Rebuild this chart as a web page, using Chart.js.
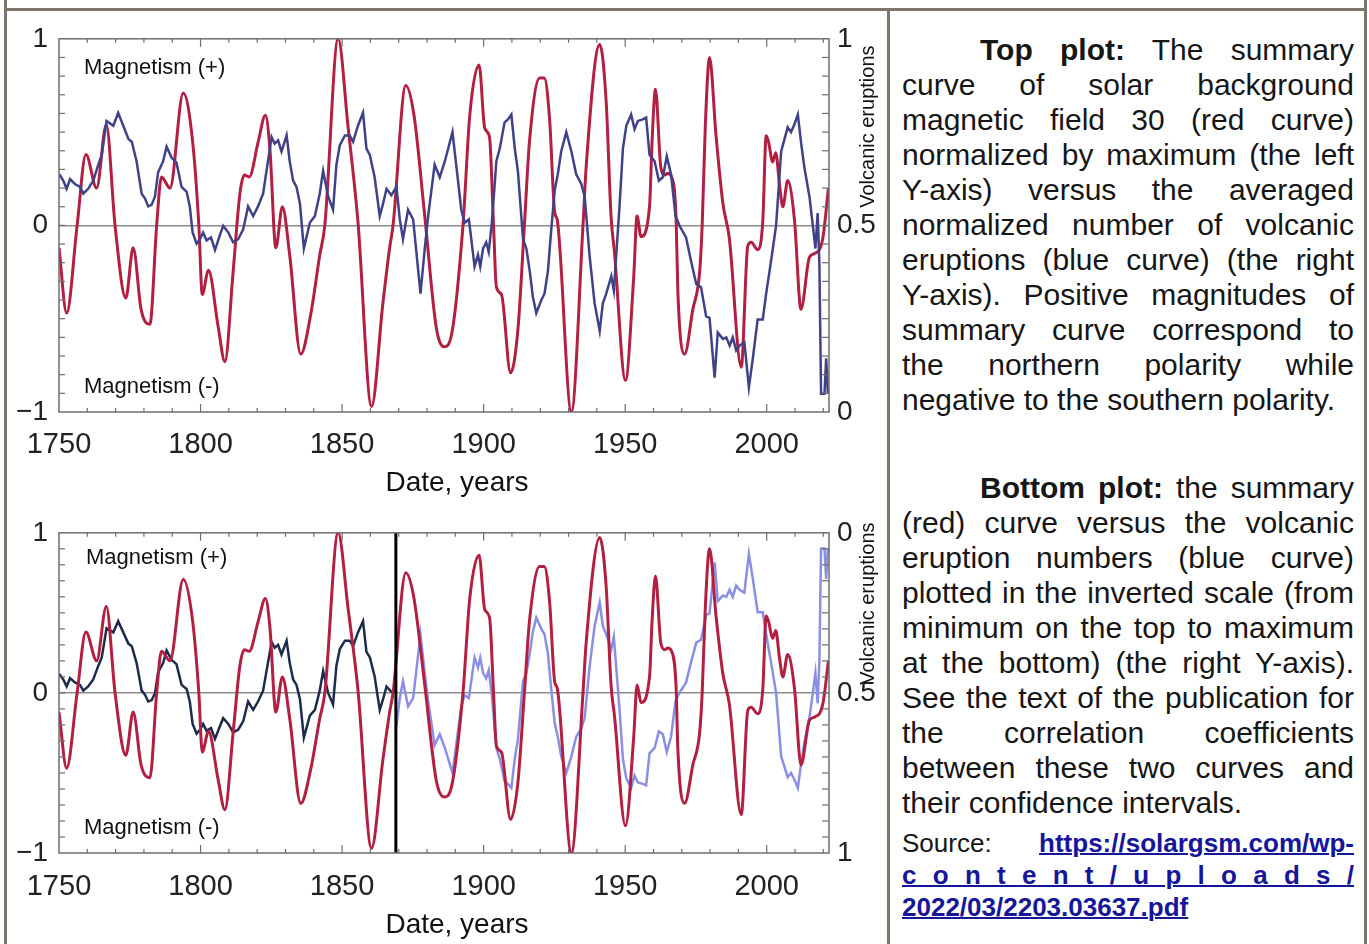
<!DOCTYPE html>
<html>
<head>
<meta charset="utf-8">
<script src="https://cdn.jsdelivr.net/npm/chart.js@4.4.1/dist/chart.umd.min.js"></script>
<style>
  html, body { margin: 0; padding: 0; background: #fff; }
  body { width: 1369px; height: 944px; position: relative; overflow: hidden;
         font-family: "Liberation Sans", Arial, sans-serif; color: #161616; }
  .rule { position: absolute; background: #7c776a; }
  canvas { position: absolute; left: 8px; }
  #topPlot { top: 11px; }
  #bottomPlot { top: 505px; }
  .notes { position: absolute; left: 902px; width: 452px; font-size: 30px; line-height: 35px; }
  .ln { text-align: justify; text-align-last: justify; }
  .ln.last { text-align-last: left; }
  .ln.first { padding-left: 78px; }
  .src { position: absolute; left: 902px; width: 452px; font-size: 26px; line-height: 32px; }
  .src a { color: #16169a; font-weight: bold; text-decoration: underline; text-decoration-thickness: 2px; }
  #spread { display: inline-block; white-space: nowrap; }
</style>
</head>
<body>
<div class="rule" style="left:4px; top:0; width:3px; height:944px;"></div>
<div class="rule" style="left:4px; top:8px; width:1363px; height:3px;"></div>
<div class="rule" style="left:887px; top:8px; width:3px; height:936px;"></div>
<div class="rule" style="left:1364px; top:0; width:3px; height:944px;"></div>

<canvas id="topPlot" width="878" height="490"></canvas>
<canvas id="bottomPlot" width="878" height="439"></canvas>

<div class="notes" style="top:32px;">
  <div class="ln first"><b>Top plot:</b> The summary</div>
  <div class="ln">curve of solar background</div>
  <div class="ln">magnetic field 30 (red curve)</div>
  <div class="ln">normalized by maximum (the left</div>
  <div class="ln">Y-axis) versus the averaged</div>
  <div class="ln">normalized number of volcanic</div>
  <div class="ln">eruptions (blue curve) (the right</div>
  <div class="ln">Y-axis). Positive magnitudes of</div>
  <div class="ln">summary curve correspond to</div>
  <div class="ln">the northern polarity while</div>
  <div class="ln last">negative to the southern polarity.</div>
</div>

<div class="notes" style="top:470px;">
  <div class="ln first"><b>Bottom plot:</b> the summary</div>
  <div class="ln">(red) curve versus the volcanic</div>
  <div class="ln">eruption numbers (blue curve)</div>
  <div class="ln">plotted in the inverted scale (from</div>
  <div class="ln">minimum on the top to maximum</div>
  <div class="ln">at the bottom) (the right Y-axis).</div>
  <div class="ln">See the text of the publication for</div>
  <div class="ln">the correlation coefficients</div>
  <div class="ln">between these two curves and</div>
  <div class="ln last">their confidence intervals.</div>
</div>

<div class="src" style="top:827px;">
  <div class="ln">Source: <a>https://solargsm.com/wp-</a></div>
  <div class="ln last"><a id="spread">content/uploads/</a></div>
  <div class="ln last"><a>2022/03/2203.03637.pdf</a></div>
</div>

<script>
// summary magnetic curve, normalized by maximum (left axis)
const magYears = [
  1750.0, 1752.7, 1756.4, 1759.5, 1763.3, 1766.7, 1769.8, 1773.6, 1776.2, 1779.0,
  1782.1, 1784.5, 1786.2, 1789.2, 1793.9, 1797.2, 1799.4, 1800.6, 1802.8, 1806.2,
  1808.6, 1811.5, 1813.9, 1815.5, 1817.2, 1820.4, 1822.9, 1824.5, 1826.6, 1828.9,
  1831.5, 1835.4, 1839.0, 1842.1, 1843.9, 1848.6, 1852.1, 1855.6, 1860.4, 1864.4,
  1866.8, 1868.0, 1872.5, 1875.4, 1879.2, 1883.3, 1886.1, 1888.6, 1892.7, 1895.1,
  1898.4, 1900.4, 1902.1, 1903.5, 1904.5, 1906.3, 1909.5, 1912.1, 1914.4, 1916.2,
  1919.8, 1921.4, 1923.3, 1925.1, 1926.0, 1931.0, 1935.1, 1936.2, 1941.0, 1943.3,
  1945.0, 1946.2, 1950.1, 1953.0, 1954.2, 1955.6, 1958.6, 1959.5, 1960.7, 1962.6,
  1964.0, 1965.0, 1966.4, 1968.0, 1968.6, 1971.0, 1973.9, 1976.3, 1977.2, 1978.3,
  1979.8, 1982.1, 1984.5, 1986.8, 1991.0, 1993.3, 1994.5, 1996.8, 1998.6, 1999.8,
  2000.6, 2002.1, 2003.2, 2004.5, 2005.7, 2007.4, 2009.8, 2012.1, 2015.1, 2017.0,
  2019.8, 2021.8
];
const magSummary = [
  -0.12, -0.47, 0.00, 0.38, 0.20, 0.54, 0.00, -0.39, -0.12, -0.45,
  -0.53, 0.00, 0.26, 0.20, 0.71, 0.45, 0.00, -0.37, -0.24, -0.54,
  -0.73, -0.25, 0.17, 0.27, 0.26, 0.45, 0.59, 0.41, -0.12, 0.10,
  -0.16, -0.69, -0.47, -0.16, 0.00, 1.00, 0.53, 0.02, -0.97, -0.42,
  -0.12, 0.00, 0.75, 0.59, 0.05, -0.55, -0.65, -0.59, 0.00, 0.59,
  0.86, 0.52, 0.47, 0.00, -0.33, -0.37, -0.79, -0.56, 0.00, 0.45,
  0.79, 0.79, 0.57, 0.07, 0.03, -1.00, 0.00, 0.31, 0.97, 0.66,
  0.05, -0.14, -0.83, -0.28, 0.05, -0.06, 0.10, 0.45, 0.73, 0.31,
  0.27, 0.28, 0.26, 0.03, -0.35, -0.69, -0.45, -0.25, 0.00, 0.53,
  0.90, 0.48, 0.12, -0.07, -0.76, -0.11, -0.09, -0.13, 0.02, 0.48,
  0.45, 0.34, 0.39, 0.22, 0.10, 0.24, 0.03, -0.45, -0.17, -0.15,
  -0.07, 0.20
];

// averaged normalized number of volcanic eruptions (right axis)
const volcYears = [
  1750.1, 1751.5, 1752.7, 1753.9, 1755.6, 1757.4, 1758.6, 1760.3, 1762.1, 1763.9,
  1765.1, 1766.8, 1769.2, 1770.9, 1772.7, 1774.5, 1775.7, 1777.4, 1779.2, 1780.4,
  1781.5, 1782.7, 1783.9, 1785.0, 1786.8, 1788.0, 1789.8, 1791.5, 1793.3, 1795.1,
  1796.2, 1797.2, 1798.6, 1799.8, 1800.9, 1802.1, 1803.7, 1805.1, 1806.8, 1808.0,
  1809.8, 1811.5, 1813.3, 1815.1, 1816.8, 1818.6, 1820.3, 1822.1, 1823.3, 1825.1,
  1826.2, 1827.4, 1828.6, 1830.4, 1831.5, 1832.7, 1833.9, 1835.1, 1836.5, 1838.6,
  1840.4, 1842.1, 1843.3, 1845.1, 1846.8, 1848.0, 1849.2, 1851.0, 1852.7, 1853.9,
  1855.6, 1857.4, 1858.6, 1859.8, 1861.5, 1863.3, 1864.5, 1865.7, 1867.4, 1869.2,
  1870.4, 1871.5, 1873.3, 1875.1, 1877.7, 1879.2, 1880.4, 1882.7, 1884.5, 1886.3,
  1889.0, 1890.3, 1892.1, 1893.3, 1894.8, 1896.8, 1898.0, 1898.8, 1899.8, 1900.9,
  1901.8, 1902.9, 1904.5, 1905.7, 1907.4, 1908.6, 1909.8, 1911.0, 1912.1, 1913.9,
  1915.1, 1916.3, 1917.4, 1918.6, 1920.4, 1921.5, 1922.7, 1923.9, 1925.1, 1926.2,
  1927.4, 1929.2, 1931.0, 1932.7, 1934.5, 1935.7, 1937.4, 1939.2, 1941.0, 1942.1,
  1943.3, 1945.1, 1946.0, 1948.0, 1949.2, 1950.4, 1952.1, 1953.3, 1954.5, 1956.2,
  1957.4, 1958.6, 1960.4, 1961.9, 1963.3, 1964.7, 1966.2, 1967.8, 1969.2, 1971.5,
  1973.3, 1975.1, 1976.8, 1978.6, 1979.8, 1981.6, 1982.7, 1984.5, 1985.7, 1986.9,
  1988.0, 1989.2, 1990.4, 1992.1, 1993.7, 1995.1, 1996.8, 1998.6, 1999.8, 2001.5,
  2003.3, 2005.1, 2006.3, 2007.4, 2008.6, 2009.8, 2011.0, 2012.1, 2013.3, 2015.1,
  2016.3, 2017.2, 2018.0, 2018.6, 2019.2, 2020.4, 2021.0, 2021.6
];
const volcNorm = [
  0.637, 0.620, 0.598, 0.624, 0.611, 0.603, 0.585, 0.598, 0.620, 0.663,
  0.689, 0.780, 0.767, 0.802, 0.767, 0.732, 0.724, 0.672, 0.585, 0.572,
  0.551, 0.555, 0.577, 0.642, 0.672, 0.711, 0.681, 0.668, 0.603, 0.590,
  0.551, 0.481, 0.451, 0.463, 0.481, 0.460, 0.468, 0.434, 0.473, 0.499,
  0.481, 0.455, 0.463, 0.490, 0.551, 0.525, 0.551, 0.585, 0.646, 0.737,
  0.719, 0.728, 0.698, 0.741, 0.672, 0.620, 0.603, 0.559, 0.438, 0.507,
  0.525, 0.585, 0.646, 0.577, 0.542, 0.663, 0.715, 0.741, 0.741, 0.724,
  0.767, 0.802, 0.706, 0.689, 0.629, 0.525, 0.559, 0.598, 0.581, 0.603,
  0.516, 0.463, 0.542, 0.516, 0.317, 0.438, 0.525, 0.663, 0.629, 0.672,
  0.750, 0.663, 0.542, 0.507, 0.516, 0.390, 0.421, 0.390, 0.438, 0.455,
  0.429, 0.507, 0.672, 0.706, 0.776, 0.784, 0.797, 0.706, 0.646, 0.464,
  0.438, 0.377, 0.308, 0.265, 0.300, 0.317, 0.377, 0.490, 0.594, 0.637,
  0.698, 0.750, 0.698, 0.637, 0.611, 0.577, 0.421, 0.291, 0.217, 0.291,
  0.317, 0.364, 0.325, 0.551, 0.706, 0.767, 0.797, 0.758, 0.780, 0.784,
  0.789, 0.689, 0.672, 0.620, 0.629, 0.685, 0.637, 0.525, 0.499, 0.468,
  0.403, 0.343, 0.334, 0.256, 0.252, 0.092, 0.213, 0.196, 0.200, 0.178,
  0.200, 0.165, 0.178, 0.187, 0.066, 0.144, 0.248, 0.248, 0.317, 0.403,
  0.499, 0.698, 0.732, 0.763, 0.750, 0.771, 0.797, 0.724, 0.655, 0.577,
  0.499, 0.438, 0.533, 0.399, 0.049, 0.049, 0.144, 0.049
];

// early part of the eruption curve in the lower panel (before the split)
const earlyYears = [
  1750.1, 1751.5, 1752.7, 1753.9, 1755.6, 1757.4, 1758.6, 1760.3, 1762.1, 1763.9,
  1765.1, 1766.8, 1769.2, 1770.9, 1772.7, 1774.5, 1775.7, 1777.4, 1779.2, 1780.4,
  1781.5, 1782.7, 1783.9, 1785.0, 1786.8, 1788.0, 1789.8, 1791.5, 1793.3, 1795.1,
  1796.2, 1797.2, 1798.6, 1799.8, 1800.9, 1802.1, 1803.7, 1805.1, 1806.8, 1808.0,
  1809.8, 1811.5, 1813.3, 1815.1, 1816.8, 1818.6, 1820.3, 1822.1, 1823.3, 1825.1,
  1826.2, 1827.4, 1828.6, 1830.4, 1831.5, 1832.7, 1833.9, 1835.1, 1836.5, 1838.6,
  1840.4, 1842.1, 1843.3, 1845.1, 1846.8, 1848.0, 1849.2, 1851.0, 1852.7, 1853.9,
  1855.6, 1857.4, 1858.6, 1859.8, 1861.5, 1863.3, 1864.5, 1865.7, 1867.4, 1869.0
];
const earlyVolc = [
  0.441, 0.458, 0.480, 0.454, 0.467, 0.475, 0.493, 0.480, 0.458, 0.415,
  0.389, 0.298, 0.311, 0.276, 0.311, 0.346, 0.354, 0.406, 0.493, 0.506,
  0.527, 0.523, 0.501, 0.436, 0.406, 0.367, 0.397, 0.410, 0.475, 0.488,
  0.527, 0.597, 0.627, 0.615, 0.597, 0.618, 0.610, 0.644, 0.605, 0.579,
  0.597, 0.623, 0.615, 0.588, 0.527, 0.553, 0.527, 0.493, 0.432, 0.341,
  0.359, 0.350, 0.380, 0.337, 0.406, 0.458, 0.475, 0.519, 0.640, 0.571,
  0.553, 0.493, 0.432, 0.501, 0.536, 0.415, 0.363, 0.337, 0.337, 0.354,
  0.311, 0.276, 0.372, 0.389, 0.449, 0.553, 0.519, 0.480, 0.497, 0.490
];

const splitYear = 1869;
const yearMin = 1750, yearMax = 2022;

const FONT = '"Liberation Sans", Arial, sans-serif';
const RED = '#b21f40';

const pts = (xs, ys) => xs.map((x, i) => ({ x: x, y: ys[i] }));

// boxed frame, inward minor ticks and in-plot labels
const framePlugin = {
  id: 'frame',
  afterDatasetsDraw(chart, args, o) {
    const { ctx, chartArea: a, scales } = chart;
    const seg = (x1, y1, x2, y2) => { ctx.beginPath(); ctx.moveTo(x1, y1); ctx.lineTo(x2, y2); ctx.stroke(); };
    ctx.save();
    if (o.split) {
      const sx = scales.x.getPixelForValue(o.split);
      ctx.strokeStyle = '#000';
      ctx.lineWidth = 3;
      seg(sx, a.top, sx, a.bottom);
    }
    ctx.strokeStyle = '#6e6e6e';
    ctx.lineWidth = 1.5;
    ctx.strokeRect(a.left, a.top, a.right - a.left, a.bottom - a.top);
    ctx.lineWidth = 1.2;
    for (let yr = 1760; yr <= 2020; yr += 10) {
      const px = scales.x.getPixelForValue(yr);
      const len = yr % 50 === 0 ? 8 : 4;
      seg(px, a.bottom, px, a.bottom - len);
      seg(px, a.top, px, a.top + len);
    }
    for (let k = -9; k <= 9; k++) {
      const py = scales.y.getPixelForValue(k / 10);
      seg(a.left, py, a.left + 6, py);
    }
    for (let k = 1; k < 20; k++) {
      const py = scales.yv.getPixelForValue(k / 20);
      seg(a.right - 7, py, a.right, py);
    }

    ctx.fillStyle = '#111';
    ctx.font = '22px ' + FONT;
    ctx.textAlign = 'left';
    ctx.textBaseline = 'alphabetic';
    ctx.fillText('Magnetism (+)', a.left + o.plusX, a.top + o.plusDy);
    ctx.fillText('Magnetism (-)', a.left + 25, a.bottom - 19);

    ctx.font = '28px ' + FONT;
    ctx.textAlign = 'center';
    ctx.textBaseline = 'middle';
    ctx.fillText('Date, years', (a.left + a.right) / 2 + 13, a.bottom + o.titleDy);

    ctx.translate(a.right + 39, a.top + o.volcStart);
    ctx.rotate(-Math.PI / 2);
    ctx.font = '20px ' + FONT;
    ctx.textAlign = 'left';
    ctx.fillText('Volcanic eruptions', 0, 0);
    ctx.restore();
  }
};

function scalesFor(reverse, xPad, xHeight) {
  return {
    x: {
      type: 'linear', min: yearMin, max: yearMax,
      afterFit: s => { s.height = xHeight; },
      grid: { display: false, drawTicks: false },
      border: { display: false },
      ticks: {
        stepSize: 50, includeBounds: false, autoSkip: false, maxRotation: 0,
        padding: xPad, color: '#222', font: { family: FONT, size: 29 },
        callback: v => (v % 50 === 0 ? String(v) : '')
      }
    },
    y: {
      position: 'left', min: -1, max: 1,
      afterFit: s => { s.width = 51; },
      border: { display: false },
      grid: {
        drawTicks: false, lineWidth: 1.5,
        color: c => (c.tick && c.tick.value === 0 ? '#8c8c8c' : 'rgba(0,0,0,0)')
      },
      ticks: {
        stepSize: 1, padding: 11, color: '#222', font: { family: FONT, size: 28 },
        callback: v => (v < 0 ? '\u2212' + Math.abs(v) : String(v))
      }
    },
    yv: {
      position: 'right', min: 0, max: 1, reverse: reverse,
      afterFit: s => { s.width = 57; },
      border: { display: false },
      grid: { display: false, drawTicks: false },
      ticks: {
        stepSize: 0.5, padding: 8, color: '#222', font: { family: FONT, size: 28 },
        callback: v => String(Math.round(v * 10) / 10)
      }
    }
  };
}

const common = {
  responsive: false,
  animation: false,
  events: [],
  elements: { point: { radius: 0 } }
};

new Chart(document.getElementById('topPlot'), {
  type: 'line',
  data: {
    datasets: [
      { data: pts(volcYears, volcNorm), yAxisID: 'yv', borderColor: '#3f4288', borderWidth: 2.5, tension: 0 },
      { data: pts(magYears, magSummary), yAxisID: 'y', borderColor: RED, borderWidth: 3, cubicInterpolationMode: 'monotone' }
    ]
  },
  options: Object.assign({}, common, {
    layout: { padding: { top: 17, left: 0, right: 0, bottom: 0 } },
    scales: scalesFor(false, 16, 89),
    plugins: {
      legend: { display: false },
      tooltip: { enabled: false },
      frame: { plusX: 25, plusDy: 35, titleDy: 71, volcStart: 169 }
    }
  }),
  plugins: [framePlugin]
});

// after the split the eruption curve is drawn on the inverted axis
const lateIdx = volcYears.map((y, i) => i).filter(i => volcYears[i] >= splitYear);

new Chart(document.getElementById('bottomPlot'), {
  type: 'line',
  data: {
    datasets: [
      { data: pts(magYears, magSummary), yAxisID: 'y', borderColor: RED, borderWidth: 3, cubicInterpolationMode: 'monotone' },
      { data: pts(earlyYears, earlyVolc), yAxisID: 'yv', borderColor: '#1d2b4c', borderWidth: 2.5, tension: 0 },
      { data: pts(lateIdx.map(i => volcYears[i]), lateIdx.map(i => volcNorm[i])), yAxisID: 'yv', borderColor: '#8b8fe4', borderWidth: 2.5, tension: 0 }
    ]
  },
  options: Object.assign({}, common, {
    layout: { padding: { top: 20, left: 0, right: 0, bottom: 0 } },
    scales: scalesFor(true, 17, 91),
    plugins: {
      legend: { display: false },
      tooltip: { enabled: false },
      frame: { split: splitYear, plusX: 27, plusDy: 31, titleDy: 72, volcStart: 152 }
    }
  }),
  plugins: [framePlugin]
});

// spread the middle line of the link across the column
(function () {
  const el = document.getElementById('spread');
  const txt = el.textContent;
  const natural = el.getBoundingClientRect().width;
  const gap = (452 - natural) / (txt.length - 1);
  el.textContent = '';
  el.style.letterSpacing = gap + 'px';
  el.appendChild(document.createTextNode(txt.slice(0, -1)));
  const tail = document.createElement('span');
  tail.style.letterSpacing = '0px';
  tail.textContent = txt.slice(-1);
  el.appendChild(tail);
})();
</script>
</body>
</html>
